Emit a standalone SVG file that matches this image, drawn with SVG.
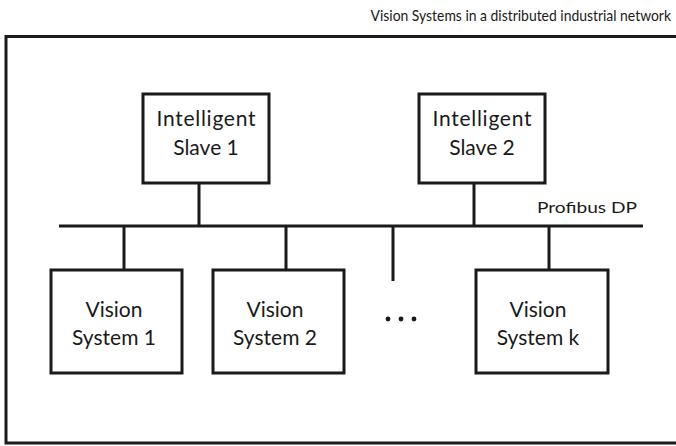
<svg xmlns="http://www.w3.org/2000/svg" width="676" height="446" viewBox="0 0 676 446">
<style>
.box{fill:#fff;stroke:#1a1a1a;stroke-width:3}
.ln{stroke:#1a1a1a;stroke-width:3;fill:none}
.t{font-family:Lato,"Open Sans",sans-serif;font-size:21px;fill:#1a1a1a;text-anchor:middle}
.s{font-family:Lato,"Open Sans",sans-serif;font-size:16px;fill:#1a1a1a}
</style>
<rect width="676" height="446" fill="#fff"/>
<text class="s" transform="translate(671,21) scale(0.87,1)" text-anchor="end" font-size="17">Vision Systems in a distributed industrial network</text>
<path class="ln" d="M680,36.5 H6 V443 H680"/>
<g id="connectors">
<line class="ln" x1="59" y1="226" x2="643" y2="226"/>
<line class="ln" x1="199" y1="183" x2="199" y2="226"/>
<line class="ln" x1="474" y1="183" x2="474" y2="226"/>
<line class="ln" x1="124" y1="226" x2="124" y2="270"/>
<line class="ln" x1="286" y1="226" x2="286" y2="270"/>
<line class="ln" x1="393" y1="226" x2="393" y2="281"/>
<line class="ln" x1="549" y1="226" x2="549" y2="270"/>
</g>
<text class="s" x="537" y="213" textLength="100" lengthAdjust="spacingAndGlyphs">Profibus DP</text>
<g id="slave1">
<rect class="box" x="143" y="94" width="126" height="89"/>
<text class="t" x="206" y="126" textLength="99">Intelligent</text>
<text class="t" x="206" y="155">Slave 1</text>
</g>
<g id="slave2">
<rect class="box" x="419" y="94" width="126" height="89"/>
<text class="t" x="482" y="126" textLength="99">Intelligent</text>
<text class="t" x="482" y="155">Slave 2</text>
</g>
<g id="vs1">
<rect class="box" x="51" y="270" width="131" height="103"/>
<text class="t" x="114" y="317">Vision</text>
<text class="t" x="114" y="345">System 1</text>
</g>
<g id="vs2">
<rect class="box" x="213" y="270" width="131" height="103"/>
<text class="t" x="275" y="317">Vision</text>
<text class="t" x="275" y="345">System 2</text>
</g>
<g id="vsk">
<rect class="box" x="476" y="270" width="132" height="103"/>
<text class="t" x="538" y="317">Vision</text>
<text class="t" x="538" y="345">System k</text>
</g>
<g id="dots" fill="#1a1a1a">
<circle cx="388" cy="319" r="2.4"/>
<circle cx="401" cy="319" r="2.4"/>
<circle cx="414" cy="319" r="2.4"/>
</g>
</svg>
